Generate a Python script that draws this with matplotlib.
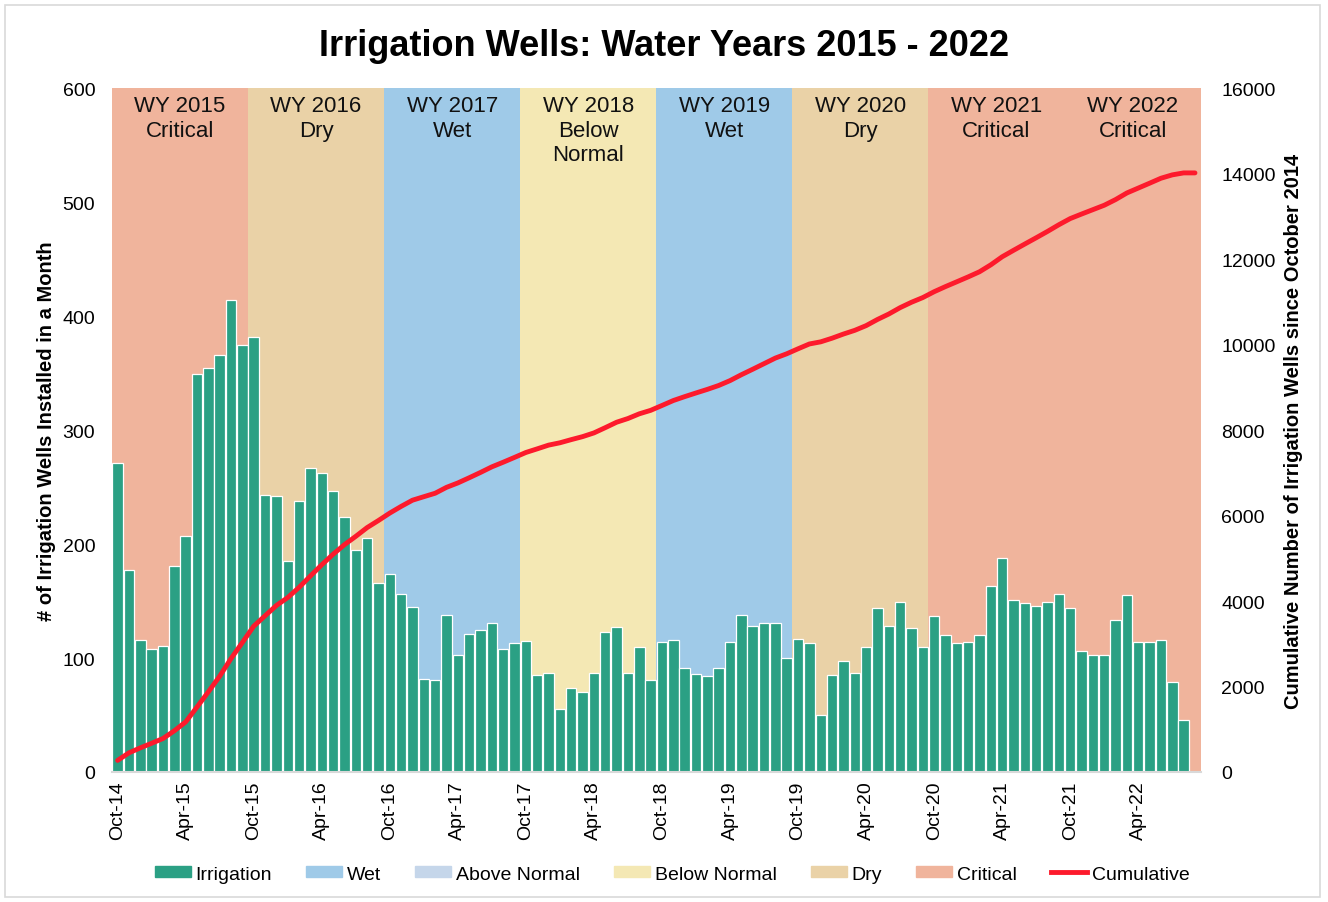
import numpy as np
import matplotlib
matplotlib.use("Agg")
import matplotlib.pyplot as plt
from matplotlib.patches import Patch, Rectangle
from matplotlib.lines import Line2D

plt.rcParams["font.family"] = ["Liberation Sans", "DejaVu Sans"]

# monthly irrigation wells, Oct-14 .. Sep-22
wells = [271, 177, 116, 108, 111, 181, 207, 349, 355, 366, 414, 375,
         382, 243, 242, 185, 238, 267, 262, 247, 224, 195, 205, 166,
         174, 156, 145, 82, 81, 138, 103, 121, 125, 131, 108, 113,
         115, 85, 87, 55, 74, 70, 87, 123, 127, 87, 110, 81,
         114, 116, 91, 86, 84, 91, 114, 138, 128, 131, 131, 100,
         117, 113, 50, 85, 97, 87, 110, 144, 128, 149, 126, 110,
         137, 120, 113, 114, 120, 163, 188, 151, 148, 146, 149, 156,
         144, 106, 103, 103, 133, 155, 114, 114, 116, 79, 46, 0]
cumulative = np.cumsum(wells)

mon_names = ["Oct", "Nov", "Dec", "Jan", "Feb", "Mar", "Apr", "May", "Jun", "Jul", "Aug", "Sep"]
months = []
for wy in range(2015, 2023):
    for i, m in enumerate(mon_names):
        yr = wy - 1 if i < 3 else wy
        months.append(f"{m}-{yr % 100:02d}")

water_years = [2015, 2016, 2017, 2018, 2019, 2020, 2021, 2022]
wy_types = ["Critical", "Dry", "Wet", "Below\nNormal", "Wet", "Dry", "Critical", "Critical"]

type_colors = {"Wet": "#9fcae8", "Above Normal": "#c5d6ea", "Below Normal": "#f4e8b4",
               "Dry": "#ead2a7", "Critical": "#f0b49c"}
bar_color = "#2ba084"
line_color = "#fd1a2c"

fig = plt.figure(figsize=[13.28, 9.03], dpi=100)
ax = fig.add_axes([0.0843, 0.144, 0.8198, 0.757])
ax2 = ax.twinx()

x = np.arange(len(wells))

# water year bands
for k, wy in enumerate(water_years):
    t = wy_types[k].replace("\n", " ")
    ax.axvspan(k * 12 - 0.5, k * 12 + 11.5, color=type_colors[t], lw=0, zorder=0)
    ax.text(k * 12 + 5.5, 594, f"WY {wy}\n{wy_types[k]}", ha="center", va="top",
            fontsize=16, linespacing=1.22, color="#111111", zorder=1)

ax.bar(x, wells, width=0.92, color=bar_color, edgecolor="white", linewidth=0.9, zorder=2)
ax2.plot(x, cumulative, color=line_color, lw=3.5, solid_capstyle="round", zorder=3)

ax.set_xlim(-0.5, len(wells) - 0.5)
ax.set_ylim(0, 600)
ax2.set_ylim(0, 16000)
ax.set_yticks(range(0, 601, 100))
ax2.set_yticks(range(0, 16001, 2000))
ax.set_xticks(x[::6])
ax.set_xticklabels(months[::6], rotation=90, fontsize=14)

ax.tick_params(axis="y", length=0, labelsize=14, pad=12)
ax2.tick_params(axis="y", length=0, labelsize=14, pad=15)
ax.tick_params(axis="x", length=0, pad=6)

for a in (ax, ax2):
    for s in ["top", "left", "right"]:
        a.spines[s].set_visible(False)
ax2.spines["bottom"].set_visible(False)
ax.spines["bottom"].set_color("#d9d9d9")
ax.spines["bottom"].set_linewidth(1.5)
ax.set_zorder(ax2.get_zorder() - 1)
ax2.patch.set_visible(False)

ax.set_ylabel("# of Irrigation Wells Installed in a Month", fontsize=14.5, fontweight="bold", labelpad=5)
ax2.set_ylabel("Cumulative Number of Irrigation Wells since October 2014", fontsize=14.5,
               fontweight="bold", rotation=90, labelpad=6)

fig.suptitle("Irrigation Wells: Water Years 2015 - 2022", fontsize=26, fontweight="bold", y=0.968)

handles = [Patch(color=bar_color, label="Irrigation")]
for t in ["Wet", "Above Normal", "Below Normal", "Dry", "Critical"]:
    handles.append(Patch(color=type_colors[t], label=t))
handles.append(Line2D([0], [0], color=line_color, lw=3.5, label="Cumulative"))
fig.legend(handles=handles, loc="center", bbox_to_anchor=(0.506, 0.031), ncol=7, frameon=False,
           fontsize=14, handlelength=1.85, handleheight=0.45, handletextpad=0.25, columnspacing=1.75)

fig.patches.append(Rectangle((0.004, 0.006), 0.99, 0.987, transform=fig.transFigure,
                             fill=False, edgecolor="#d9d9d9", lw=1.2))

fig.savefig("out.png", dpi=100)
